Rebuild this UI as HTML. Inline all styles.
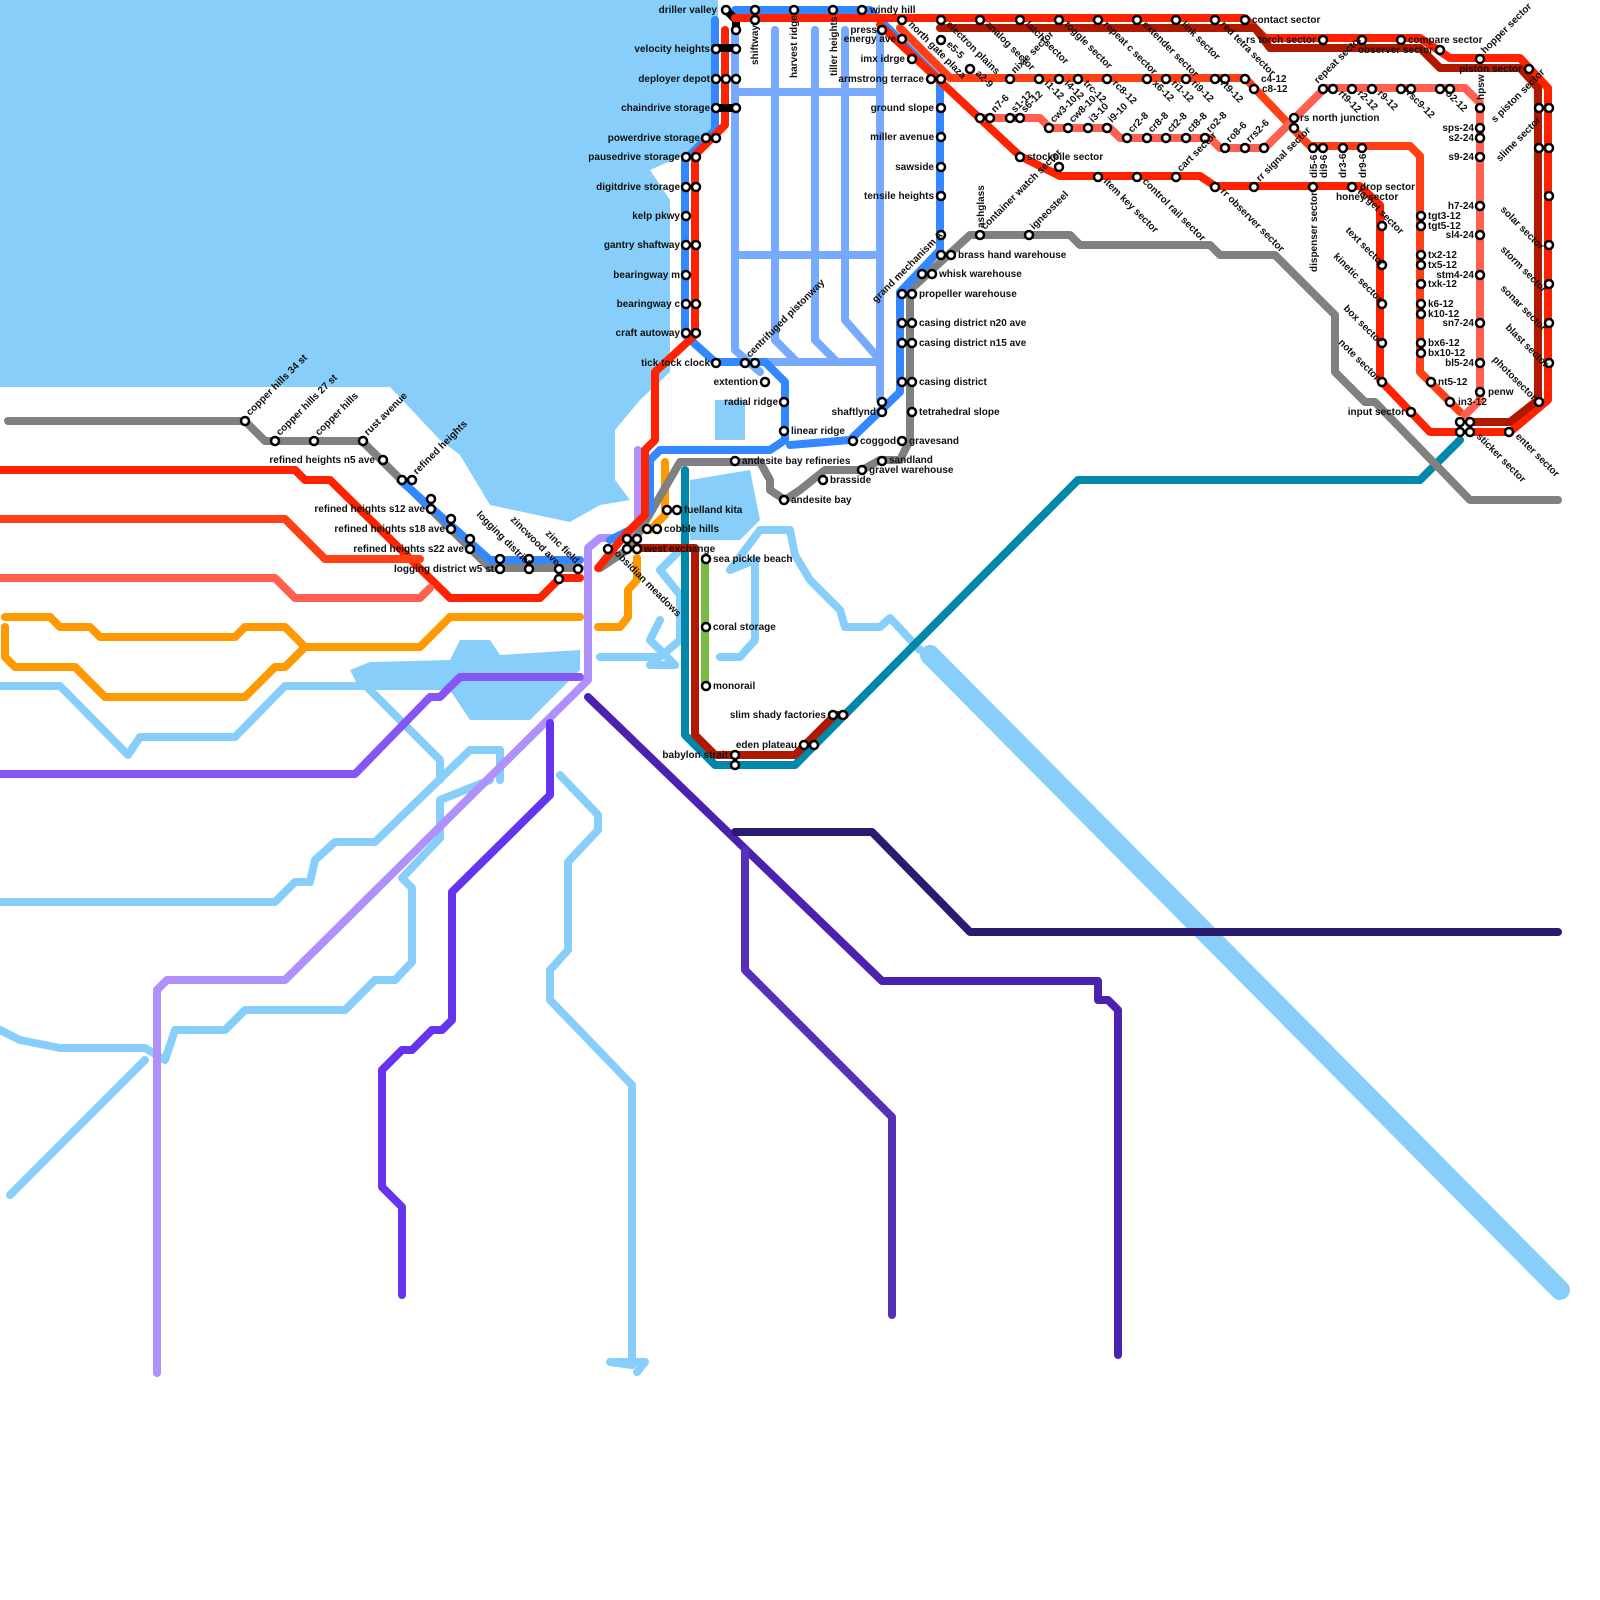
<!DOCTYPE html>
<html><head><meta charset="utf-8"><style>
html,body{margin:0;padding:0;background:#fff}
svg{display:block}
text{font-family:"Liberation Sans",sans-serif;font-size:10px;font-weight:bold;fill:#111}
.w{fill:#87CEFA;stroke:none}
.r{fill:none;stroke:#87CEFA;stroke-linejoin:round;stroke-linecap:round}
.l{fill:none;stroke-width:8;stroke-linejoin:round;stroke-linecap:round}
.s{fill:#fff;stroke:#000;stroke-width:2.5}
</style></head><body>
<svg width="1600" height="1600" viewBox="0 0 1600 1600" xmlns="http://www.w3.org/2000/svg">
<!-- water -->
<polygon class="w" points="0,0 718,0 718,140 650,170 670,200 670,372 640,400 615,430 615,480 630,500 600,505 570,522 490,505 460,455 440,440 390,387 0,387"/>
<polygon class="w" points="460,640 490,640 500,655 580,650 580,670 550,700 530,720 470,720 450,690 360,690 350,670 370,662 450,660"/>
<polygon class="w" points="690,480 750,470 760,520 740,540 690,540"/>
<polygon class="w" points="715,400 745,400 745,440 715,440"/>
<polyline class="r" stroke-width="20" points="930,655 1560,1290"/>
<polyline class="r" stroke-width="10" points="930,650 1200,920"/>
<polyline class="r" stroke-width="8" points="0,686 60,686 128,755 140,737 235,737 285,686 440,686 460,670"/>
<polyline class="r" stroke-width="8" points="0,902 275,902 295,882 310,882 315,860 335,842 375,842 470,750 500,750 500,780"/>
<polyline class="r" stroke-width="8" points="0,1030 20,1040 60,1048 145,1048 165,1060 175,1030 225,1030 245,1010 345,1010 375,980 395,980 412,962 412,888 402,878 440,838 440,800 490,780"/>
<polyline class="r" stroke-width="8" points="10,1195 145,1060"/>
<polyline class="r" stroke-width="8" points="360,680 440,760 440,780"/>
<polyline class="r" stroke-width="8" points="560,775 598,815 598,830 568,862 568,950 550,970 550,1000 632,1085 632,1365 610,1362 645,1362 637,1372"/>
<polyline class="r" stroke-width="8" points="600,657 660,657 680,640 680,595 660,570 680,550"/>
<polyline class="r" stroke-width="8" points="720,657 740,657 755,640 755,560 730,570 760,530 790,530 795,555 810,580 840,610 845,627 880,627 890,618 920,650"/>
<polyline class="r" stroke-width="8" points="650,665 675,665 660,650 650,640 660,620"/>
<!-- light blue grid -->
<g class="l" stroke="#77AAFF" stroke-width="8">
<polyline points="735,30 735,350 760,372"/>
<polyline points="775,30 775,340 795,360"/>
<polyline points="815,30 815,340 835,360"/>
<polyline points="845,30 845,320 880,360"/>
<polyline points="880,30 880,400"/>
<polyline points="735,92 880,92"/>
<polyline points="735,255 880,255"/>
<polyline points="740,362 880,362"/>
</g>
<!-- lines -->
<polyline class="l" stroke="#808080" points="8,421 245,421 265,441 362,441 490,568 580,568"/>
<polyline class="l" stroke="#3388FF" points="400,480 490,560 580,560"/>
<polyline class="l" stroke="#FF2200" points="0,470 295,470 305,480 330,480 450,598 540,598 560,578 580,578"/>
<polyline class="l" stroke="#FF4015" points="0,519 285,519 325,559 420,559"/>
<polyline class="l" stroke="#FF6050" points="0,578 275,578 295,598 420,598 430,588"/>
<polyline class="l" stroke="#FF9900" points="5,617 50,617 60,627 90,627 100,637 235,637 245,627 285,627 305,647 420,647 450,617 580,617"/>
<polyline class="l" stroke="#FF9900" points="5,627 5,657 15,667 75,667 105,697 245,697 275,667 285,667 305,647"/>
<polyline class="l" stroke="#FF9900" points="598,627 620,627 628,617 628,590 637,580 637,558"/>
<polyline class="l" stroke="#FF9900" points="650,530 665,515 665,462"/>
<polyline class="l" stroke="#8855F5" points="0,774 355,774 430,697 440,697 460,677 580,677"/>
<polyline class="l" stroke="#B090FA" points="157,1373 157,990 167,980 285,980 588,680 588,548 600,538 628,538 638,528 638,450"/>
<polyline class="l" stroke="#6633EE" points="402,1295 402,1207 382,1187 382,1070 402,1050 412,1050 432,1030 442,1030 452,1020 452,892 550,795 550,723"/>
<polyline class="l" stroke="#4B22B0" points="588,697 882,981 1098,981 1098,1000 1108,1000 1118,1010 1118,1355"/>
<polyline class="l" stroke="#5530B8" points="745,850 745,970 892,1117 892,1315"/>
<polyline class="l" stroke="#2A1A70" points="735,832 872,832 970,932 1558,932"/>
<polyline class="l" stroke="#0088AA" points="1460,440 1420,480 1078,480 795,765 715,765 685,735 685,470"/>
<polyline class="l" stroke="#B01800" points="637,548 695,548 695,735 715,755 795,755 835,715 845,715"/>
<polyline class="l" stroke="#77BB44" points="705,558 705,686"/>
<polyline class="l" stroke="#808080" points="600,568 630,548 680,462 760,462 770,480 770,490 785,500 800,490 825,470 862,470 880,460 900,460 910,440 910,290 970,235 1070,235 1080,245 1210,245 1220,255 1275,255 1335,315 1335,372 1365,402 1375,402 1470,500 1558,500"/>
<polyline class="l" stroke="#3388FF" points="715,20 715,130 700,145 685,160 685,335 715,362 765,362 785,382 785,440 770,450 660,450 650,460 650,510 630,530 610,540"/>
<polyline class="l" stroke="#3388FF" points="735,10 870,10 940,80 940,250 900,292 900,392 850,440 790,445"/>
<polyline class="l" stroke="#FF2200" points="725,30 725,125 695,155 695,335 655,372 655,440 645,450 645,515 625,535 598,568"/>
<polyline class="l" stroke="#000" stroke-width="6" points="726,10 736,20 736,30"/>
<polyline class="l" stroke="#000" stroke-width="6" points="715,48 735,48"/>
<polyline class="l" stroke="#000" stroke-width="6" points="715,108 735,108"/>
<polyline class="l" stroke="#FF2200" points="735,18 900,18 1245,18 1265,38 1420,38 1450,58 1520,58 1548,88 1548,400 1510,432 1470,432"/>
<polyline class="l" stroke="#B01800" points="940,28 1255,28 1270,48 1420,48 1440,68 1520,68 1538,88 1538,400 1510,422 1470,422"/>
<polyline class="l" stroke="#FF2200" points="880,25 1020,156 1060,176 1200,176 1215,186 1360,186 1380,205 1380,380 1430,432 1460,432"/>
<polyline class="l" stroke="#FF4015" points="900,28 940,68 950,78 1245,78 1300,136 1310,146 1410,146 1420,156 1420,372 1460,412"/>
<polyline class="l" stroke="#FF6050" points="980,118 1040,118 1050,128 1110,128 1120,138 1210,138 1220,148 1265,148 1325,88 1465,88 1480,103 1480,400 1465,415"/>
<!-- stations -->
<g class="s">
<circle cx="245" cy="421" r="4"/><circle cx="275" cy="441" r="4"/><circle cx="314" cy="441" r="4"/><circle cx="363" cy="441" r="4"/>
<circle cx="383" cy="460" r="4"/><circle cx="402" cy="480" r="4"/><circle cx="412" cy="480" r="4"/>
<circle cx="431" cy="499" r="4"/><circle cx="431" cy="509" r="4"/><circle cx="451" cy="519" r="4"/><circle cx="451" cy="529" r="4"/>
<circle cx="470" cy="539" r="4"/><circle cx="470" cy="549" r="4"/><circle cx="500" cy="559" r="4"/><circle cx="500" cy="569" r="4"/>
<circle cx="529" cy="559" r="4"/><circle cx="529" cy="569" r="4"/><circle cx="559" cy="569" r="4"/><circle cx="559" cy="579" r="4"/><circle cx="578" cy="569" r="4"/>
<circle cx="608" cy="549" r="4"/><circle cx="627" cy="539" r="4"/><circle cx="637" cy="539" r="4"/><circle cx="627" cy="549" r="4"/><circle cx="637" cy="549" r="4"/>
<circle cx="647" cy="529" r="4"/><circle cx="657" cy="529" r="4"/><circle cx="667" cy="510" r="4"/><circle cx="677" cy="510" r="4"/>
<circle cx="706" cy="559" r="4"/><circle cx="706" cy="627" r="4"/><circle cx="706" cy="686" r="4"/>
<circle cx="735" cy="755" r="4"/><circle cx="735" cy="765" r="4"/><circle cx="804" cy="745" r="4"/><circle cx="814" cy="745" r="4"/>
<circle cx="833" cy="715" r="4"/><circle cx="843" cy="715" r="4"/>
<circle cx="726" cy="10" r="4"/><circle cx="736" cy="30" r="4"/><circle cx="755" cy="10" r="4"/><circle cx="755" cy="20" r="4"/><circle cx="794" cy="10" r="4"/><circle cx="833" cy="10" r="4"/><circle cx="862" cy="10" r="4"/>
<circle cx="716" cy="49" r="4"/><circle cx="736" cy="49" r="4"/><circle cx="716" cy="79" r="4"/><circle cx="726" cy="79" r="4"/><circle cx="736" cy="79" r="4"/>
<circle cx="716" cy="108" r="4"/><circle cx="736" cy="108" r="4"/><circle cx="706" cy="138" r="4"/><circle cx="716" cy="138" r="4"/>
<circle cx="686" cy="157" r="4"/><circle cx="696" cy="157" r="4"/><circle cx="686" cy="187" r="4"/><circle cx="696" cy="187" r="4"/>
<circle cx="686" cy="216" r="4"/><circle cx="686" cy="245" r="4"/><circle cx="696" cy="245" r="4"/><circle cx="686" cy="275" r="4"/>
<circle cx="686" cy="304" r="4"/><circle cx="696" cy="304" r="4"/><circle cx="686" cy="333" r="4"/><circle cx="696" cy="333" r="4"/>
<circle cx="716" cy="363" r="4"/><circle cx="745" cy="363" r="4"/><circle cx="755" cy="363" r="4"/><circle cx="765" cy="382" r="4"/>
<circle cx="784" cy="402" r="4"/><circle cx="784" cy="431" r="4"/><circle cx="853" cy="441" r="4"/><circle cx="735" cy="461" r="4"/>
<circle cx="784" cy="500" r="4"/><circle cx="823" cy="480" r="4"/><circle cx="862" cy="470" r="4"/><circle cx="882" cy="461" r="4"/>
<circle cx="882" cy="402" r="4"/><circle cx="882" cy="412" r="4"/><circle cx="902" cy="441" r="4"/><circle cx="912" cy="412" r="4"/>
<circle cx="902" cy="382" r="4"/><circle cx="912" cy="382" r="4"/><circle cx="902" cy="343" r="4"/><circle cx="912" cy="343" r="4"/>
<circle cx="902" cy="323" r="4"/><circle cx="912" cy="323" r="4"/><circle cx="902" cy="294" r="4"/><circle cx="912" cy="294" r="4"/>
<circle cx="922" cy="274" r="4"/><circle cx="932" cy="274" r="4"/><circle cx="941" cy="255" r="4"/><circle cx="951" cy="255" r="4"/><circle cx="941" cy="235" r="4"/>
<circle cx="941" cy="196" r="4"/><circle cx="941" cy="167" r="4"/><circle cx="941" cy="137" r="4"/><circle cx="941" cy="108" r="4"/>
<circle cx="931" cy="79" r="4"/><circle cx="941" cy="79" r="4"/><circle cx="912" cy="59" r="4"/><circle cx="902" cy="39" r="4"/><circle cx="882" cy="30" r="4"/><circle cx="902" cy="20" r="4"/>
<circle cx="941" cy="20" r="4"/><circle cx="941" cy="40" r="4"/><circle cx="980" cy="20" r="4"/><circle cx="1020" cy="20" r="4"/><circle cx="1059" cy="20" r="4"/><circle cx="1098" cy="20" r="4"/><circle cx="1137" cy="20" r="4"/><circle cx="1176" cy="20" r="4"/><circle cx="1215" cy="20" r="4"/><circle cx="1245" cy="20" r="4"/>
<circle cx="970" cy="69" r="4"/><circle cx="1010" cy="79" r="4"/><circle cx="1039" cy="79" r="4"/><circle cx="1059" cy="79" r="4"/><circle cx="1078" cy="79" r="4"/><circle cx="1107" cy="79" r="4"/><circle cx="1147" cy="79" r="4"/><circle cx="1166" cy="79" r="4"/><circle cx="1186" cy="79" r="4"/><circle cx="1215" cy="79" r="4"/><circle cx="1225" cy="79" r="4"/><circle cx="1245" cy="79" r="4"/><circle cx="1254" cy="89" r="4"/>
<circle cx="980" cy="118" r="4"/><circle cx="990" cy="118" r="4"/><circle cx="1010" cy="118" r="4"/><circle cx="1020" cy="118" r="4"/><circle cx="1049" cy="128" r="4"/><circle cx="1068" cy="128" r="4"/><circle cx="1088" cy="128" r="4"/><circle cx="1107" cy="128" r="4"/>
<circle cx="1127" cy="138" r="4"/><circle cx="1147" cy="138" r="4"/><circle cx="1166" cy="138" r="4"/><circle cx="1186" cy="138" r="4"/><circle cx="1205" cy="138" r="4"/><circle cx="1225" cy="148" r="4"/><circle cx="1245" cy="148" r="4"/><circle cx="1264" cy="148" r="4"/>
<circle cx="1020" cy="157" r="4"/><circle cx="1059" cy="167" r="4"/><circle cx="1098" cy="177" r="4"/><circle cx="1137" cy="177" r="4"/><circle cx="1176" cy="177" r="4"/><circle cx="1215" cy="187" r="4"/><circle cx="1254" cy="187" r="4"/><circle cx="1313" cy="187" r="4"/><circle cx="1352" cy="187" r="4"/>
<circle cx="980" cy="235" r="4"/><circle cx="1029" cy="235" r="4"/>
<circle cx="1294" cy="118" r="4"/><circle cx="1294" cy="128" r="4"/><circle cx="1313" cy="148" r="4"/><circle cx="1323" cy="148" r="4"/><circle cx="1343" cy="148" r="4"/><circle cx="1362" cy="148" r="4"/>
<circle cx="1323" cy="40" r="4"/><circle cx="1362" cy="40" r="4"/><circle cx="1401" cy="40" r="4"/><circle cx="1440" cy="50" r="4"/><circle cx="1480" cy="59" r="4"/><circle cx="1529" cy="69" r="4"/>
<circle cx="1323" cy="89" r="4"/><circle cx="1333" cy="89" r="4"/><circle cx="1352" cy="89" r="4"/><circle cx="1372" cy="89" r="4"/><circle cx="1401" cy="89" r="4"/><circle cx="1411" cy="89" r="4"/><circle cx="1440" cy="89" r="4"/><circle cx="1450" cy="89" r="4"/>
<circle cx="1480" cy="108" r="4"/><circle cx="1480" cy="128" r="4"/><circle cx="1480" cy="138" r="4"/><circle cx="1480" cy="157" r="4"/><circle cx="1480" cy="206" r="4"/><circle cx="1480" cy="235" r="4"/><circle cx="1480" cy="275" r="4"/><circle cx="1480" cy="323" r="4"/><circle cx="1480" cy="363" r="4"/><circle cx="1480" cy="392" r="4"/>
<circle cx="1421" cy="216" r="4"/><circle cx="1421" cy="226" r="4"/><circle cx="1421" cy="255" r="4"/><circle cx="1421" cy="265" r="4"/><circle cx="1421" cy="284" r="4"/><circle cx="1421" cy="304" r="4"/><circle cx="1421" cy="314" r="4"/><circle cx="1421" cy="343" r="4"/><circle cx="1421" cy="353" r="4"/><circle cx="1431" cy="382" r="4"/><circle cx="1450" cy="402" r="4"/>
<circle cx="1382" cy="226" r="4"/><circle cx="1382" cy="265" r="4"/><circle cx="1382" cy="304" r="4"/><circle cx="1382" cy="343" r="4"/><circle cx="1382" cy="382" r="4"/><circle cx="1411" cy="412" r="4"/>
<circle cx="1539" cy="108" r="4"/><circle cx="1549" cy="108" r="4"/><circle cx="1539" cy="148" r="4"/><circle cx="1549" cy="148" r="4"/><circle cx="1549" cy="196" r="4"/><circle cx="1549" cy="245" r="4"/><circle cx="1549" cy="284" r="4"/><circle cx="1549" cy="323" r="4"/><circle cx="1549" cy="363" r="4"/><circle cx="1539" cy="402" r="4"/>
<circle cx="1460" cy="422" r="4"/><circle cx="1470" cy="422" r="4"/><circle cx="1460" cy="432" r="4"/><circle cx="1470" cy="432" r="4"/><circle cx="1509" cy="432" r="4"/>
</g>
<!-- labels horizontal -->
<g text-anchor="end">
<text x="717" y="13">driller valley</text><text x="710" y="52">velocity heights</text><text x="710" y="82">deployer depot</text><text x="710" y="111">chaindrive storage</text>
<text x="700" y="141">powerdrive storage</text><text x="680" y="160">pausedrive storage</text><text x="680" y="190">digitdrive storage</text><text x="680" y="219">kelp pkwy</text>
<text x="680" y="248">gantry shaftway</text><text x="680" y="278">bearingway m</text><text x="680" y="307">bearingway c</text><text x="680" y="336">craft autoway</text>
<text x="710" y="366">tick tock clock</text><text x="758" y="385">extention</text><text x="778" y="405">radial ridge</text><text x="876" y="415">shaftlynd</text>
<text x="877" y="33">press</text><text x="896" y="42">energy ave</text><text x="905" y="62">imx idrge</text><text x="924" y="82">armstrong terrace</text>
<text x="934" y="111">ground slope</text><text x="934" y="140">miller avenue</text><text x="934" y="170">sawside</text><text x="934" y="199">tensile heights</text>
<text x="375" y="463">refined heights n5 ave</text><text x="425" y="512">refined heights s12 ave</text><text x="445" y="532">refined heights s18 ave</text><text x="464" y="552">refined heights s22 ave</text><text x="494" y="572">logging district w5 st</text>
<text x="826" y="718">slim shady factories</text><text x="797" y="748">eden plateau</text><text x="728" y="758">babylon strait</text>
<text x="1474" y="209">h7-24</text><text x="1474" y="238">sl4-24</text><text x="1474" y="278">stm4-24</text><text x="1474" y="326">sn7-24</text><text x="1474" y="366">bl5-24</text>
<text x="1474" y="131">sps-24</text><text x="1474" y="141">s2-24</text><text x="1474" y="160">s9-24</text><text x="1405" y="415">input sector</text>
<text x="1316" y="43">rs torch sector</text><text x="1433" y="53">observer sector</text><text x="1522" y="72">piston sector</text>
</g>
<g>
<text x="870" y="13">windy hill</text><text x="1252" y="23">contact sector</text><text x="1408" y="43">compare sector</text>
<text x="742" y="464">andesite bay refineries</text><text x="791" y="503">andesite bay</text><text x="830" y="483">brasside</text><text x="869" y="473">gravel warehouse</text>
<text x="889" y="463">sandland</text><text x="909" y="444">gravesand</text><text x="919" y="415">tetrahedral slope</text><text x="919" y="385">casing district</text>
<text x="919" y="346">casing district n15 ave</text><text x="919" y="326">casing district n20 ave</text><text x="919" y="297">propeller warehouse</text>
<text x="939" y="277">whisk warehouse</text><text x="958" y="258">brass hand warehouse</text><text x="860" y="444">coggod</text><text x="791" y="434">linear ridge</text>
<text x="684" y="513">fuelland kita</text><text x="664" y="532">cobble hills</text><text x="644" y="552">west exchange</text>
<text x="713" y="562">sea pickle beach</text><text x="713" y="630">coral storage</text><text x="713" y="689">monorail</text>
<text x="1027" y="160">stockpile sector</text><text x="1300" y="121">rs north junction</text><text x="1360" y="190">drop sector</text>
<text x="1261" y="82">c4-12</text><text x="1262" y="92">c8-12</text>
<text x="1428" y="219">tgt3-12</text><text x="1428" y="229">tgt5-12</text><text x="1428" y="258">tx2-12</text><text x="1428" y="268">tx5-12</text><text x="1428" y="287">txk-12</text>
<text x="1428" y="307">k6-12</text><text x="1428" y="317">k10-12</text><text x="1428" y="346">bx6-12</text><text x="1428" y="356">bx10-12</text><text x="1438" y="385">nt5-12</text>
<text x="1458" y="405">in3-12</text><text x="1488" y="395">penw</text><text x="1336" y="200">honey sector</text>
</g>
<!-- rotated labels -45 -->
<g>
<text transform="translate(250,416) rotate(-45)">copper hills 34 st</text>
<text transform="translate(280,436) rotate(-45)">copper hills 27 st</text>
<text transform="translate(319,436) rotate(-45)">copper hills</text>
<text transform="translate(368,436) rotate(-45)">rust avenue</text>
<text transform="translate(417,475) rotate(-45)">refined heights</text>
<text transform="translate(750,358) rotate(-45)">centrifuged pistonway</text>
<text transform="translate(876,303) rotate(-45)">grand mechanism A</text>
<text transform="translate(985,230) rotate(-45)">container watch sector</text>
<text transform="translate(1034,230) rotate(-45)">igneosteel</text>
<text transform="translate(1181,172) rotate(-45)">cart sector</text>
<text transform="translate(1260,182) rotate(-45)">rr signal sector</text>
<text transform="translate(1318,84) rotate(-45)">repeat sector</text>
<text transform="translate(1485,54) rotate(-45)">hopper sector</text>
<text transform="translate(1495,123) rotate(-45)">s piston sector</text>
<text transform="translate(1500,162) rotate(-45)">slime sector</text>
<text transform="translate(1015,74) rotate(-45)">nixie sector</text>
<text transform="translate(1210,133) rotate(-45)">ro2-8</text>
<text transform="translate(1250,143) rotate(-45)">rrs2-6</text>
<text transform="translate(1230,143) rotate(-45)">ro8-6</text>
<text transform="translate(1132,133) rotate(-45)">cr2-8</text>
<text transform="translate(1152,133) rotate(-45)">cr8-8</text>
<text transform="translate(1171,133) rotate(-45)">ct2-8</text>
<text transform="translate(1191,133) rotate(-45)">ct8-8</text>
<text transform="translate(1054,123) rotate(-45)">cw3-10</text>
<text transform="translate(1073,123) rotate(-45)">cw8-10</text>
<text transform="translate(1093,123) rotate(-45)">i3-10</text>
<text transform="translate(1112,123) rotate(-45)">i9-10</text>
<text transform="translate(995,113) rotate(-45)">n7-6</text>
<text transform="translate(1015,113) rotate(-45)">s1-12</text>
<text transform="translate(1025,113) rotate(-45)">s6-12</text>
</g>
<!-- rotated labels +45 -->
<g>
<text transform="translate(908,25) rotate(45)">north gate plaza</text>
<text transform="translate(946,25) rotate(45)">electron plains</text>
<text transform="translate(946,45) rotate(45)">e5-5</text>
<text transform="translate(975,74) rotate(45)">a2-9</text>
<text transform="translate(985,25) rotate(45)">analog sector</text>
<text transform="translate(1025,25) rotate(45)">latch sector</text>
<text transform="translate(1064,25) rotate(45)">toggle sector</text>
<text transform="translate(1103,25) rotate(45)">repeat c sector</text>
<text transform="translate(1142,25) rotate(45)">extender sector</text>
<text transform="translate(1181,25) rotate(45)">link sector</text>
<text transform="translate(1220,25) rotate(45)">red tetra sector</text>
<text transform="translate(1044,84) rotate(45)">i1-12</text>
<text transform="translate(1064,84) rotate(45)">i4-12</text>
<text transform="translate(1083,84) rotate(45)">trc-12</text>
<text transform="translate(1112,84) rotate(45)">rc8-12</text>
<text transform="translate(1152,84) rotate(45)">x6-12</text>
<text transform="translate(1171,84) rotate(45)">ri1-12</text>
<text transform="translate(1191,84) rotate(45)">ri9-12</text>
<text transform="translate(1220,84) rotate(45)">rt9-12</text>
<text transform="translate(1338,94) rotate(45)">rt9-12</text>
<text transform="translate(1357,94) rotate(45)">r2-12</text>
<text transform="translate(1377,94) rotate(45)">r9-12</text>
<text transform="translate(1406,94) rotate(45)">rsc9-12</text>
<text transform="translate(1445,94) rotate(45)">o2-12</text>
<text transform="translate(1103,182) rotate(45)">item key sector</text>
<text transform="translate(1142,182) rotate(45)">control rail sector</text>
<text transform="translate(1220,192) rotate(45)">rr observer sector</text>
<text transform="translate(1357,192) rotate(45)">target sector</text>
<text transform="translate(1345,231) rotate(45)">text sector</text>
<text transform="translate(1333,257) rotate(45)">kinetic sector</text>
<text transform="translate(1343,309) rotate(45)">box sector</text>
<text transform="translate(1338,343) rotate(45)">note sector</text>
<text transform="translate(1500,210) rotate(45)">solar sector</text>
<text transform="translate(1500,250) rotate(45)">storm sector</text>
<text transform="translate(1500,289) rotate(45)">sonar sector</text>
<text transform="translate(1505,328) rotate(45)">blast sector</text>
<text transform="translate(1492,360) rotate(45)">photosector</text>
<text transform="translate(1515,437) rotate(45)">enter sector</text>
<text transform="translate(1476,437) rotate(45)">sticker sector</text>
<text transform="translate(476,515) rotate(45)">logging district</text>
<text transform="translate(510,520) rotate(45)">zincwood ave</text>
<text transform="translate(545,534) rotate(45)">zinc field</text>
<text transform="translate(614,554) rotate(45)">obsidian meadows</text>
</g>
<!-- rotated -90 -->
<g>
<text transform="translate(758,65) rotate(-90)">shiftway</text>
<text transform="translate(797,78) rotate(-90)">harvest ridge</text>
<text transform="translate(837,76) rotate(-90)">tiller heights</text>
<text transform="translate(984,228) rotate(-90)">ashglass</text>
<text transform="translate(1317,272) rotate(-90)">dispenser sector</text>
<text transform="translate(1317,178) rotate(-90)">di5-6</text>
<text transform="translate(1327,178) rotate(-90)">di9-6</text>
<text transform="translate(1346,178) rotate(-90)">dr3-6</text>
<text transform="translate(1366,178) rotate(-90)">dr9-6</text>
<text transform="translate(1484,100) rotate(-90)">hpsw</text>
</g>
</svg>
</body></html>
